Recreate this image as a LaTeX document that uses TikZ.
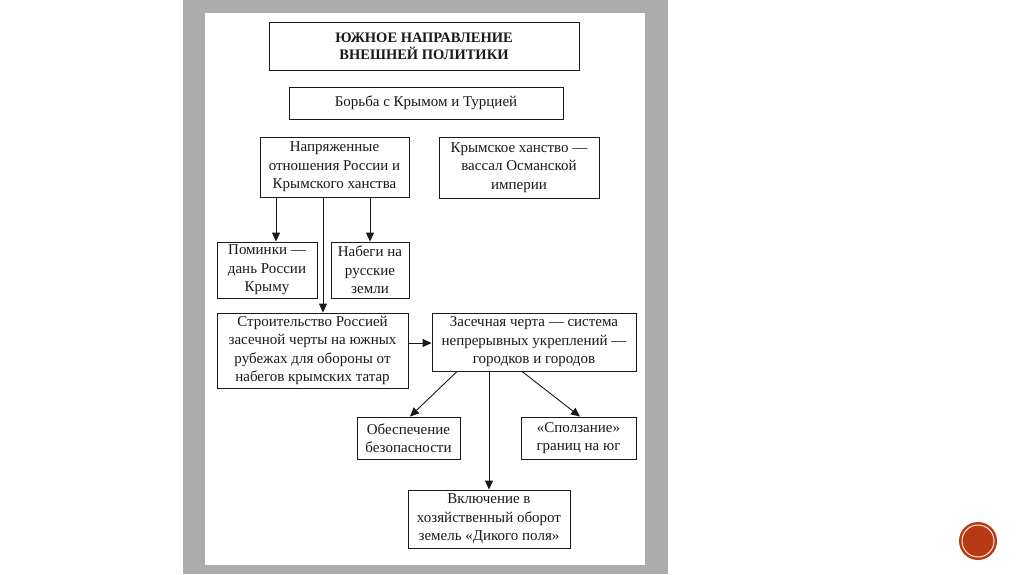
\documentclass[tikz,border=0pt]{standalone}
\usepackage{fontspec}
\setmainfont{Liberation Serif}
\usetikzlibrary{arrows.meta}
\definecolor{framegray}{RGB}{172,172,172}
\definecolor{ink}{RGB}{25,25,25}
\definecolor{dotred}{RGB}{184,58,20}
\tikzset{
  box/.style={draw=ink, line width=0.9pt, align=center, inner sep=1pt, text=ink,
    font=\fontsize{15}{18.5}\selectfont},
  arr/.style={draw=ink, line width=0.9pt, -{Triangle[length=9pt,width=8pt]}},
}
\begin{document}
\begin{tikzpicture}[x=1pt,y=-1pt]
\useasboundingbox (0,0) rectangle (1024,574);
\fill[white] (0,0) rectangle (1024,574);
\fill[framegray] (183,0) rectangle (668,574);
\fill[white] (205,13) rectangle (645,565);

\node[box, minimum width=310pt, minimum height=48pt, font=\bfseries\fontsize{14.5}{17}\selectfont] (title) at (424,46) {ЮЖНОЕ НАПРАВЛЕНИЕ\\ ВНЕШНЕЙ ПОЛИТИКИ};
\node[box, minimum width=274pt, minimum height=32pt] (borba) at (426,103) {Борьба с Крымом и Турцией};
\node[box, minimum width=149pt, minimum height=60pt] (napr) at (334.5,167) {Напряженные\\ отношения России и\\ Крымского ханства};
\node[box, minimum width=160pt, minimum height=61pt] (krym) at (519,167.5) {Крымское ханство —\\ вассал Османской\\ империи};
\node[box, minimum width=100pt, minimum height=56pt] (pom) at (267,270) {Поминки —\\ дань России\\ Крыму};
\node[box, minimum width=78pt, minimum height=56pt] (nab) at (370,270) {Набеги на\\ русские\\ земли};
\node[box, minimum width=191pt, minimum height=75pt] (str) at (312.5,350.5) {Строительство Россией\\ засечной черты на южных\\ рубежах для обороны от\\ набегов крымских татар};
\node[box, minimum width=204pt, minimum height=58pt] (zas) at (534,342) {Засечная черта — система\\ непрерывных укреплений —\\ городков и городов};
\node[box, minimum width=103pt, minimum height=42pt] (obe) at (408.5,438) {Обеспечение\\ безопасности};
\node[box, minimum width=115pt, minimum height=42pt] (spo) at (578.5,438) {«Сползание»\\ границ на юг};
\node[box, minimum width=162pt, minimum height=58pt] (vkl) at (489,519) {Включение в\\ хозяйственный оборот\\ земель «Дикого поля»};

\draw[arr] (napr.south -| 276,0) -- (pom.north -| 276,0);
\draw[arr] (napr.south -| 323,0) -- (str.north -| 323,0);
\draw[arr] (napr.south -| nab.north) -- (nab.north);
\draw[arr] (str.east |- 0,343) -- (zas.west |- 0,343);
\draw[arr] (zas.south -| 457,0) -- (obe.north -| 410,0);
\draw[arr] (zas.south -| 522,0) -- (spo.north -| 580,0);
\draw[arr] (zas.south -| 489,0) -- (vkl.north -| 489,0);

\fill[dotred] (978,541) circle (19);
\draw[white!85!orange, line width=1pt] (978,541) circle (16);
\end{tikzpicture}
\end{document}
